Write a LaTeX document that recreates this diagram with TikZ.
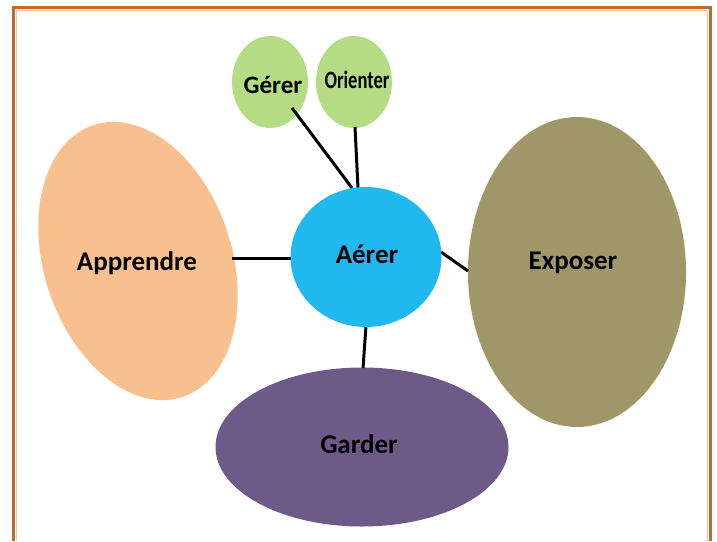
\documentclass[tikz,border=0pt]{standalone}
\usepackage{fontspec}
\setmainfont{Carlito}
\usetikzlibrary{shapes.geometric}
\definecolor{framec}{HTML}{BE6A2C}
\definecolor{framelt}{HTML}{EDC4A4}
\definecolor{apprc}{HTML}{F9C08F}
\definecolor{aerc}{HTML}{1FB9F0}
\definecolor{expc}{HTML}{A09769}
\definecolor{garc}{HTML}{6E5A88}
\definecolor{grc}{HTML}{B3DC85}
\tikzset{
  blob/.style={ellipse, draw=none, inner sep=0pt},
  lbl/.style={font=\bfseries\fontsize{27}{31}\selectfont, text=black},
  smalllbl/.style={font=\bfseries\fontsize{25}{29}\selectfont, text=black},
  link/.style={line width=3pt, black},
}
\begin{document}
\begin{tikzpicture}[x=1pt,y=-1pt]
\useasboundingbox (0,0) rectangle (717,541);
% frame
\draw[framelt, line width=1pt] (16,541) -- (16,10) -- (707.5,10) -- (707.5,541);
\draw[framec, line width=3pt] (13,541) -- (13,7) -- (710.5,7) -- (710.5,541);
% shapes
\node[blob, fill=apprc, minimum width=188pt, minimum height=286pt, rotate=18] (appr) at (138,261) {};
\node[blob, fill=expc, minimum width=218pt, minimum height=310pt] (expo) at (577,272) {};
\node[blob, fill=garc, minimum width=293pt, minimum height=159pt] (gard) at (362,447) {};
\node[blob, fill=grc, minimum width=76pt, minimum height=92pt] (gerer) at (270,82) {};
\node[blob, fill=grc, minimum width=76pt, minimum height=92pt] (orient) at (354,82) {};
% connectors
\coordinate (gerS) at (292,108);
\coordinate (aerG) at (352,188);
\coordinate (aerO) at (358,188);
\coordinate (orS) at (355,127);
\coordinate (apE) at (232,258);
\coordinate (aerL) at (292,258);
\coordinate (aerR) at (441,252);
\coordinate (exW) at (468,271);
\coordinate (aerB) at (366,326);
\coordinate (gaN) at (363,368);
\draw[link] (gerS) -- (aerG);
\draw[link] (orS) -- (aerO);
\draw[link] (apE) -- (aerL);
\draw[link] (aerR) -- (exW);
\draw[link] (aerB) -- (gaN);
\node[blob, fill=aerc, minimum width=151pt, minimum height=140pt] (aer) at (366,257) {};
% labels
\node[lbl] (tappr) at (137,263) {Apprendre};
\node[lbl] (taer) at (367,254) {Aérer};
\node[lbl] (texpo) at (573,263) {Exposer};
\node[lbl] (tgard) at (359,444) {Garder};
\node[smalllbl] (tger) at (273,85) {Gérer};
\node[smalllbl, xscale=0.74] (tor) at (357,80) {Orienter};
\end{tikzpicture}
\end{document}
